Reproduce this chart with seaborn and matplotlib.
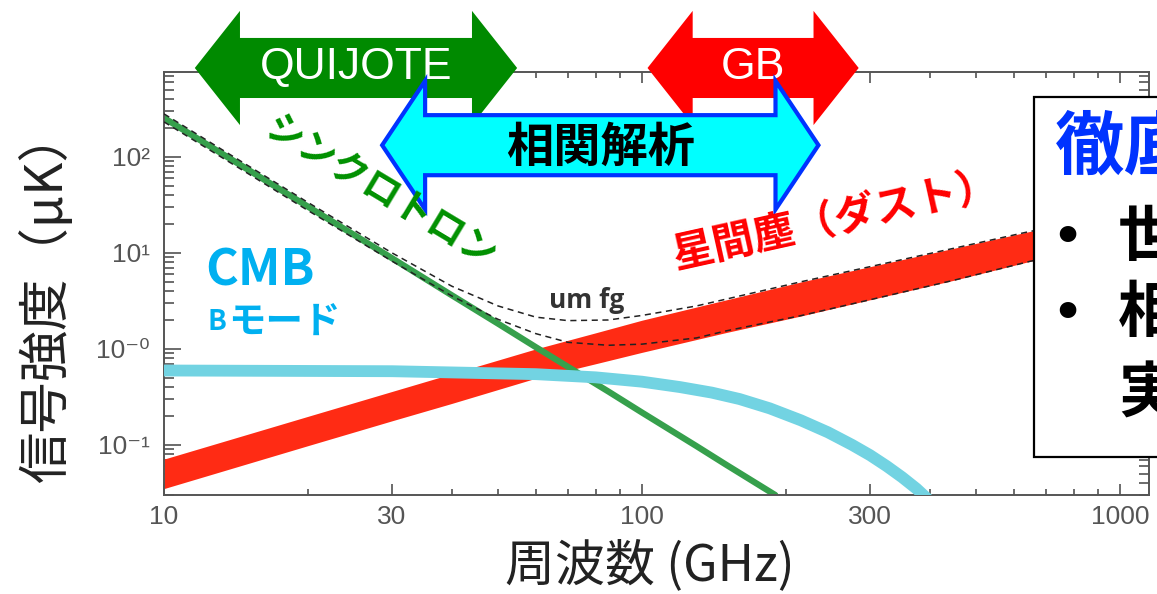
import numpy as np
import matplotlib
matplotlib.use("Agg")
import matplotlib.pyplot as plt
import seaborn as sns
from matplotlib.patches import Polygon, Rectangle
from matplotlib.transforms import blended_transform_factory
from matplotlib.ticker import FixedLocator, NullFormatter

# ---- spectra (antenna temperature, uK) ----
nu_sync = [10, 15, 20, 30, 40, 50, 60, 70, 85, 100, 130, 150, 190]
sync = [255, 73.5, 30.4, 8.8, 3.62, 1.83, 1.04, 0.65, 0.36, 0.217, 0.097, 0.062, 0.030]

nu_dust = [10, 20, 30, 40, 60, 80, 100, 150, 215, 300, 450, 650, 850, 1150]
dust_hi = [0.071, 0.198, 0.36, 0.55, 1.0, 1.47, 1.99, 3.24, 4.98, 7.19, 11.2, 16.8, 20.8, 25.0]
dust_lo = [0.035, 0.098, 0.178, 0.27, 0.495, 0.70, 0.92, 1.48, 2.2, 3.25, 5.2, 8.2, 10.3, 12.5]

nu_fg = [10, 15, 20, 30, 40, 50, 60, 70, 85, 100, 130, 150, 215, 300, 450, 650, 850, 1150]
fg_hi = [281, 81, 33.6, 10.0, 4.5, 2.8, 2.14, 1.97, 2.0, 2.23, 2.8, 3.3, 5.0, 7.19, 11.2, 16.8, 20.8, 25.0]
fg_lo = [232, 67, 27.7, 8.2, 3.56, 2.03, 1.44, 1.17, 1.09, 1.12, 1.3, 1.54, 2.22, 3.25, 5.2, 8.2, 10.3, 12.5]

nu_cmb = [10, 30, 60, 80, 100, 120, 140, 160, 185, 215, 245, 275, 300, 325, 350, 375, 400]
cmb = [0.595, 0.585, 0.545, 0.505, 0.455, 0.40, 0.35, 0.30, 0.24, 0.18, 0.135, 0.10,
       0.078, 0.060, 0.046, 0.035, 0.026]

# ---- frequency coverage of the experiments (GHz) ----
band_quijote = (11.6, 54.8)
band_gb = (102.7, 284.0)
band_corr = (28.6, 234.0)

x_ticks = [10, 30, 100, 300, 1000]
x_ticklabels = ["10", "30", "100", "300", "1000"]
x_minor = [20, 40, 50, 60, 70, 80, 90, 200, 400, 500, 600, 700, 800, 900]
y_ticks = [0.1, 1, 10, 100]
y_ticklabels = ["10⁻¹", "10⁻⁰", "10¹", "10²"]

RED = "#FF2B14"
GREEN = "#36A04C"
CYAN = "#72D3E2"

sns.set_theme(style="ticks")
plt.rcParams["font.family"] = ["Noto Sans CJK JP", "DejaVu Sans"]

W, H = 1157, 594
fig = plt.figure(figsize=(W / 100, H / 100), dpi=100)
fig.patch.set_facecolor("white")
ax = fig.add_axes([164 / W, 1 - 495 / H, (1149 - 164) / W, (495 - 72) / H])
ax.set_facecolor("white")


def px(x, y):
    return x / W, 1 - y / H


# dust band, foreground sum, synchrotron, CMB B-mode
ax.fill_between(nu_dust, dust_lo, dust_hi, color=RED, lw=0, zorder=2)
sns.lineplot(x=nu_sync, y=sync, ax=ax, color=GREEN, lw=4.5, estimator=None, zorder=2.5)
for fg in (fg_hi, fg_lo):
    sns.lineplot(x=nu_fg, y=fg, ax=ax, color="#222222", lw=1.1, estimator=None,
                 linestyle=(0, (4, 3)), zorder=3)
sns.lineplot(x=nu_cmb, y=cmb, ax=ax, color=CYAN, lw=8.5, estimator=None, zorder=4)

ax.set_xscale("log")
ax.set_yscale("log")
ax.set_xlim(10, 1150)
ax.set_ylim(0.030, 768)
ax.set_xlabel("")
ax.set_ylabel("")

ax.xaxis.set_major_locator(FixedLocator(x_ticks))
ax.xaxis.set_minor_locator(FixedLocator(x_minor))
ax.set_xticklabels(x_ticklabels)
ax.xaxis.set_minor_formatter(NullFormatter())
y_minor = [m * 10.0 ** e for e in range(-2, 3) for m in range(2, 10)]
ax.yaxis.set_major_locator(FixedLocator(y_ticks))
ax.yaxis.set_minor_locator(FixedLocator(y_minor))
ax.set_yticklabels(y_ticklabels)
ax.yaxis.set_minor_formatter(NullFormatter())

ax.tick_params(which="both", direction="in", top=True, right=True, color="#444444",
               width=1.1, labelcolor="#555555", labelsize=19)
ax.tick_params(axis="x", which="major", length=8, pad=7)
ax.tick_params(axis="x", which="minor", length=4)
ax.tick_params(axis="y", which="major", length=12, pad=10)
ax.tick_params(axis="y", which="minor", length=7)
for lab in ax.get_xticklabels() + ax.get_yticklabels():
    lab.set_family(["Liberation Sans", "DejaVu Sans"])
for sp in ax.spines.values():
    sp.set_color("#555555")
    sp.set_linewidth(1.4)

# ---- double-headed band arrows ----
trans = blended_transform_factory(ax.transData, ax.transAxes)


def double_arrow(band, yc, shaft, head, headfac, face, edge, lw, z):
    x0, x1 = band
    xs = [x0, x0 * headfac, x0 * headfac, x1 / headfac, x1 / headfac, x1,
          x1 / headfac, x1 / headfac, x0 * headfac, x0 * headfac]
    ys = [yc, yc + head, yc + shaft, yc + shaft, yc + head, yc,
          yc - head, yc - shaft, yc - shaft, yc - head]
    poly = Polygon(np.column_stack([xs, ys]), closed=True, transform=trans,
                   facecolor=face, edgecolor=edge, lw=lw, clip_on=False,
                   zorder=z, joinstyle="miter")
    ax.add_patch(poly)


double_arrow(band_quijote, 1.0095, 0.071, 0.135, 1.243, "#008A00", "none", 0, 10)
double_arrow(band_gb, 1.0095, 0.071, 0.135, 1.243, "#FF0000", "none", 0, 10)
ax.text(np.sqrt(band_quijote[0] * band_quijote[1]), 1.0095, "QUIJOTE", transform=trans,
        ha="center", va="center", color="white", fontsize=32,
        family=["Liberation Sans", "DejaVu Sans"], zorder=11, clip_on=False)
ax.text(np.sqrt(band_gb[0] * band_gb[1]), 1.0095, "GB", transform=trans,
        ha="center", va="center", color="white", fontsize=32,
        family=["Liberation Sans", "DejaVu Sans"], zorder=11, clip_on=False)
double_arrow(band_corr, 0.827, 0.071, 0.152, 1.23, "#00FFFF", "#0033FF", 3.0, 12)
ax.text(np.sqrt(band_corr[0] * band_corr[1]), 0.82, "相関解析", transform=trans,
        ha="center", va="center", color="black", fontsize=34, fontweight="bold",
        zorder=13, clip_on=False)

# ---- component labels ----
fig.text(*px(382, 192), "シンクロトロン", rotation=-31, rotation_mode="anchor",
         ha="center", va="center", color="#009000", fontsize=27, fontweight="bold",
         zorder=15)
fig.text(*px(260, 271), "CMB", ha="center", va="center", color="#00B0F0",
         fontsize=36, fontweight="bold", zorder=15)
fig.text(*px(207, 322), "B", ha="left", va="center", color="#00B0F0",
         fontsize=20, fontweight="bold", zorder=15)
fig.text(*px(228, 322), "モード", ha="left", va="center", color="#00B0F0",
         fontsize=27, fontweight="bold", zorder=15)
fig.text(*px(836, 220), "星間塵（ダスト）", rotation=12.5, rotation_mode="anchor",
         ha="center", va="center", color="#FF0000", fontsize=30, fontweight="bold",
         zorder=15)
fig.text(*px(587, 300), "um fg", ha="center", va="center", color="#333333",
         fontsize=19, fontweight="bold", family=["Open Sans", "DejaVu Sans"], zorder=15)

# ---- axis titles ----
fig.text(*px(650, 566), "周波数 (GHz)", ha="center", va="center", color="#222222",
         fontsize=36)
fig.text(*px(47, 295), "信号強度（μK）", rotation=90, ha="center", va="center",
         color="#222222", fontsize=37)

# ---- summary box at the right edge ----
box = Rectangle(px(1034, 457), (1200 - 1034) / W, (457 - 97) / H,
                transform=fig.transFigure, facecolor="white", edgecolor="black",
                lw=1.6, zorder=20)
fig.add_artist(box)
fig.text(*px(1055, 148), "徹底", ha="left", va="center", color="#0033FF",
         fontsize=50, fontweight="bold", zorder=21)
for yy, ch in ((238, "世"), (314, "相")):
    fig.text(*px(1067, yy), "•", ha="center", va="center", color="black",
             fontsize=34, fontweight="bold", zorder=21, family=["DejaVu Sans"])
    fig.text(*px(1118, yy), ch, ha="left", va="center", color="black",
             fontsize=44, fontweight="bold", zorder=21)
fig.text(*px(1118, 395), "実", ha="left", va="center", color="black",
         fontsize=44, fontweight="bold", zorder=21)

fig.savefig("out.png", dpi=100, facecolor="white")
